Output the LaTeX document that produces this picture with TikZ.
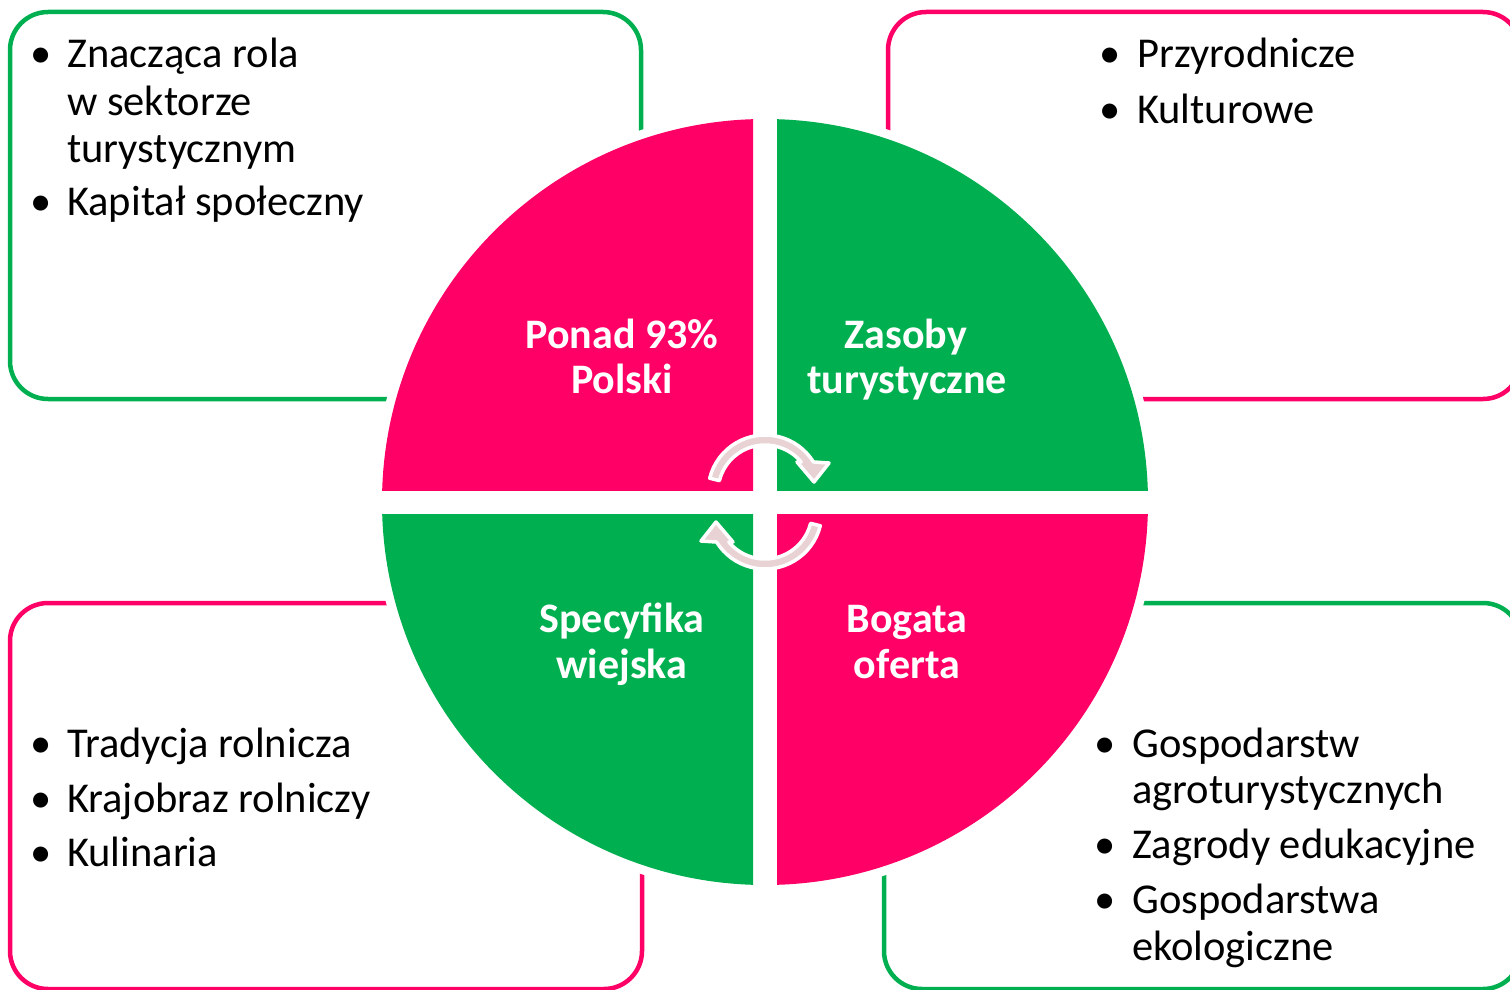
\documentclass[tikz,border=0pt]{standalone}
\usepackage{fontspec}
\setmainfont{Carlito}
\definecolor{pk}{HTML}{FF0066}
\definecolor{gr}{HTML}{00B050}
\definecolor{arw}{HTML}{E8D2D3}
\begin{document}
\begin{tikzpicture}[x=1pt,y=-1pt,
  box/.style={line width=4.5pt, rounded corners=38pt},
  item/.style={anchor=base west, inner sep=0pt, font=\fontsize{42.5}{50}\selectfont},
  bul/.style={anchor=base, inner sep=0pt, font=\fontsize{42.5}{50}\selectfont},
  lab/.style={anchor=base, inner sep=0pt, text=white, font=\fontsize{42}{48}\selectfont\bfseries},
  arrowshape/.style={fill=arw, draw=white, line width=3.5pt, line join=round}]
\useasboundingbox (0,0) rectangle (1510,990);
\clip (0,0) rectangle (1510,990);
% boxes
\draw[box, gr] (10,12) rectangle (641,399);
\draw[box, pk] (888,12) rectangle (1521,399);
\draw[box, pk] (10,603) rectangle (642,989);
\draw[box, gr] (884,603) rectangle (1521,989);
% pie
\fill[white] (765,502) circle[radius=392];
\begin{scope}\clip (360,100) rectangle (753,490); \fill[pk] (765,502) circle[radius=383]; \end{scope}
\begin{scope}\clip (777,100) rectangle (1170,490); \fill[gr] (765,502) circle[radius=383]; \end{scope}
\begin{scope}\clip (360,514) rectangle (753,900); \fill[gr] (765,502) circle[radius=383]; \end{scope}
\begin{scope}\clip (777,514) rectangle (1170,900); \fill[pk] (765,502) circle[radius=383]; \end{scope}
% arrows
\path[arrowshape] (765,492) ++(194:57) arc[start angle=194,end angle=328.2,radius=57]
  -- (829,463) -- (814,482) -- (797,462) -- (801.2,462)
  arc[start angle=320.3,end angle=194,radius=47] -- cycle;
\begin{scope}[rotate around={180:(765,502)}]
\path[arrowshape] (765,492) ++(194:57) arc[start angle=194,end angle=328.2,radius=57]
  -- (829,463) -- (814,482) -- (797,462) -- (801.2,462)
  arc[start angle=320.3,end angle=194,radius=47] -- cycle;
\end{scope}
% pie labels
\node[lab] (l1a) at (622,348) {Ponad 93\%};
\node[lab] (l1b) at (622,393) {Polski};
\node[lab] (l2a) at (906,348) {Zasoby};
\node[lab] (l2b) at (907,393) {turystyczne};
\node[lab] (l3a) at (622,632) {Specyfika};
\node[lab] (l3b) at (622,678) {wiejska};
\node[lab] (l4a) at (907,632) {Bogata};
\node[lab] (l4b) at (907,678) {oferta};
% top-left list
\node[bul] (b11) at (41,68) {•};
\node[item] (t11) at (67,68) {Znacząca rola};
\node[item] (t12) at (67,115) {w sektorze};
\node[item] (t13) at (67,162) {turystycznym};
\node[bul] (b12) at (41,215) {•};
\node[item] (t14) at (67,215) {Kapitał społeczny};
% top-right list
\node[bul] (b21) at (1110,68) {•};
\node[item] (t21) at (1137,68) {Przyrodnicze};
\node[bul] (b22) at (1110,123) {•};
\node[item] (t22) at (1137,123) {Kulturowe};
% bottom-left list
\node[bul] (b31) at (41,757) {•};
\node[item] (t31) at (67,757) {Tradycja rolnicza};
\node[bul] (b32) at (41,812) {•};
\node[item] (t32) at (67,812) {Krajobraz rolniczy};
\node[bul] (b33) at (41,866) {•};
\node[item] (t33) at (67,866) {Kulinaria};
% bottom-right list
\node[bul] (b41) at (1105,757) {•};
\node[item] (t41) at (1132,757) {Gospodarstw};
\node[item] (t42) at (1132,803) {agroturystycznych};
\node[bul] (b42) at (1105,858) {•};
\node[item] (t43) at (1132,858) {Zagrody edukacyjne};
\node[bul] (b43) at (1105,913) {•};
\node[item] (t44) at (1132,913) {Gospodarstwa};
\node[item] (t45) at (1132,960) {ekologiczne};
\end{tikzpicture}
\end{document}
